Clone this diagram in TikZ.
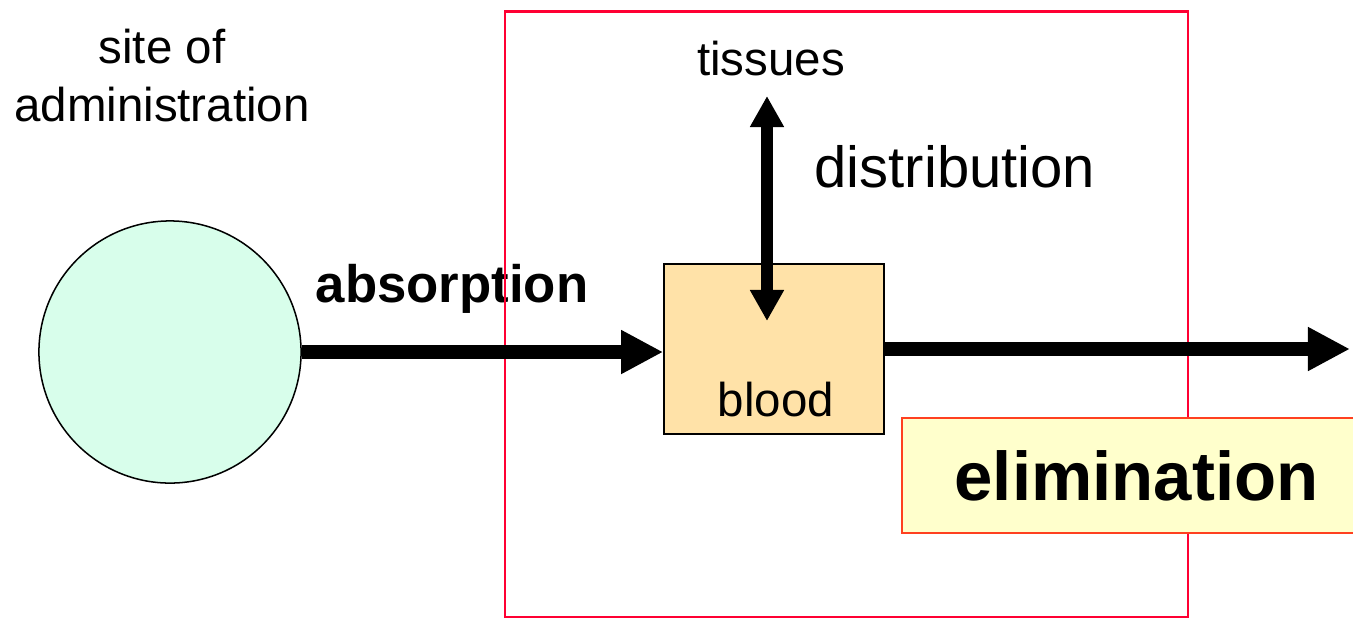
\documentclass[tikz,border=0pt]{standalone}
\usepackage{fontspec}
\setmainfont{Liberation Sans}
\usetikzlibrary{arrows.meta}

\definecolor{mint}{RGB}{216,254,235}
\definecolor{bloodfill}{RGB}{255,226,168}
\definecolor{elimfill}{RGB}{255,255,204}
\definecolor{elimline}{RGB}{255,64,32}
\definecolor{framered}{RGB}{255,0,51}

\tikzset{
  txt/.style={inner sep=0pt,font=\fontsize{13.5}{16.5}\selectfont},
  fatarrow/.style={line width=0.14cm,-{Triangle[length=0.42cm,width=0.41cm]}},
  distarrow/.style={line width=0.11cm,{Triangle[length=0.31cm,width=0.32cm]}-{Triangle[length=0.31cm,width=0.32cm]}},
}

\begin{document}
\begin{tikzpicture}[x=0.01cm,y=-0.01cm]
	  \useasboundingbox (0,0) rectangle (1353,617);
	  % administration site
	  \node[circle,draw,line width=0.43pt,fill=mint,minimum size=2.62cm,inner sep=0pt] (site) at (170,352) {};
	  \node[txt,align=center] (sitetxt) at (162,76) {site of\\administration};
	  \node[txt,anchor=base,font=\fontsize{15}{18}\selectfont\bfseries] (absorb) at (452,302) {absorption};
	  % body compartment
	  \draw[framered,line width=0.85pt] (505,11) rectangle (1188,617);
	  \node[draw,line width=0.43pt,fill=bloodfill,minimum width=2.2cm,minimum height=1.7cm,inner sep=0pt] (blood) at (774,349) {};
	  \node[txt,anchor=base] (bloodtxt) at (776,416) {blood};
	  \node[txt,anchor=base] (tissues) at (771,75) {tissues};
	  \node[txt,anchor=base,font=\fontsize{16.5}{20}\selectfont] (distrib) at (955,187) {distribution};
	  \coordinate (tisend) at (767,96);
	  \coordinate (bloodend) at (767,321);
	  \coordinate (out) at (1350,349);
	  % arrows
	  \draw[fatarrow] (site.east) -- (site.east -| blood.west);
	  \draw[fatarrow] (blood.east) -- (out);
	  \draw[distarrow] (tisend) -- (bloodend);
	  \node[draw=elimline,line width=0.57pt,fill=elimfill,minimum width=4.69cm,minimum height=1.15cm,inner sep=0pt,
	        font=\fontsize{19.6}{23}\selectfont\bfseries] (elim) at (1136.5,475.5) {elimination};
	\end{tikzpicture}
\end{document}
